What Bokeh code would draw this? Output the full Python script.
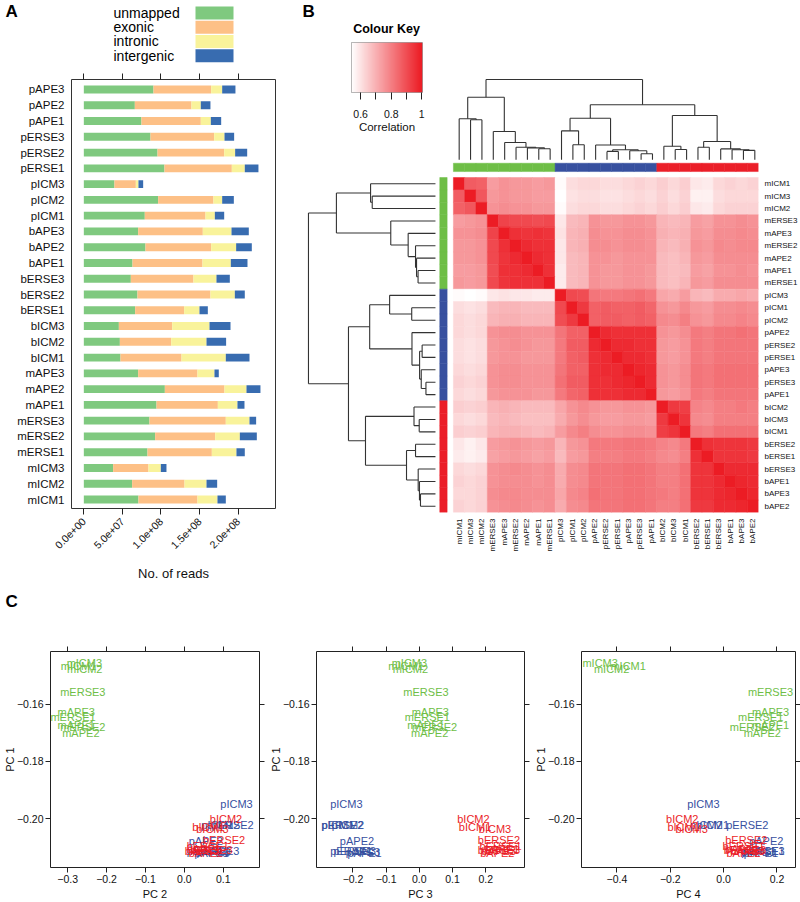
import math
import numpy as np
from bokeh.plotting import figure
from bokeh.layouts import row, column
from bokeh.models import (Range1d, LinearAxis, FixedTicker, CustomJSTickFormatter,
                          ColumnDataSource, LinearColorMapper, CustomLabelingPolicy)
from bokeh.core.properties import value
from bokeh.embed import file_html
from bokeh.resources import INLINE

FONT = "Liberation Sans"

# ---------------- Panel A data (reads, millions) ----------------
A_SAMPLES = ["pAPE3", "pAPE2", "pAPE1", "pERSE3", "pERSE2", "pERSE1", "pICM3", "pICM2", "pICM1",
             "bAPE3", "bAPE2", "bAPE1", "bERSE3", "bERSE2", "bERSE1", "bICM3", "bICM2", "bICM1",
             "mAPE3", "mAPE2", "mAPE1", "mERSE3", "mERSE2", "mERSE1", "mICM3", "mICM2", "mICM1"]
UNMAPPED_M = [90.3, 66.1, 74.7, 86.4, 95.5, 104.5, 39.7, 96.3, 79.0,
              70.4, 79.9, 63.1, 60.9, 69.5, 66.5, 45.4, 46.7, 47.5,
              70.4, 105.0, 94.2, 85.1, 92.4, 82.5, 38.0, 62.6, 70.8]
EXONIC_M = [74.7, 73.4, 76.9, 82.5, 86.4, 87.3, 27.7, 71.7, 78.7,
            83.8, 85.1, 90.7, 81.2, 94.6, 63.5, 69.1, 66.5, 79.1,
            76.9, 77.3, 79.5, 98.9, 77.8, 83.4, 45.8, 67.9, 76.5]
INTRONIC_M = [14.3, 12.1, 13.0, 13.4, 14.2, 16.8, 3.4, 11.3, 12.1,
              37.2, 32.4, 36.7, 29.8, 31.6, 19.9, 48.4, 45.8, 57.4,
              22.0, 28.5, 25.4, 30.7, 32.0, 31.9, 16.0, 28.5, 25.9]
INTERGENIC_M = [17.2, 12.5, 13.4, 12.5, 15.6, 17.7, 6.1, 15.1, 12.1,
                22.4, 20.3, 21.6, 17.3, 12.9, 10.8, 27.2, 25.4, 30.7,
                5.6, 18.1, 9.1, 8.6, 22.0, 10.8, 7.3, 13.8, 10.8]
READ_CATS = ["unmapped", "exonic", "intronic", "intergenic"]
READ_COLORS = ["#7FC97F", "#FDC086", "#F9F39B", "#386CB0"]
A_TICKS = [0, 50000000, 100000000, 150000000, 200000000]
A_TICK_LABELS = ["0.0e+00", "5.0e+07", "1.0e+08", "1.5e+08", "2.0e+08"]

# ---------------- Panel B data ----------------
LABELS = ["mICM1", "mICM3", "mICM2", "mERSE3", "mAPE3", "mERSE2", "mAPE2", "mAPE1", "mERSE1",
          "pICM3", "pICM1", "pICM2", "pAPE2", "pERSE2", "pERSE1", "pAPE3", "pERSE3", "pAPE1",
          "bICM2", "bICM3", "bICM1", "bERSE2", "bERSE1", "bERSE3", "bAPE1", "bAPE3", "bAPE2"]
# upper triangle of the correlation matrix (row i holds columns i+1 .. end)
CORR_UPPER = [
    [0.87, 0.86, 0.74, 0.76, 0.75, 0.75, 0.74, 0.75, 0.55, 0.61, 0.62, 0.62, 0.61, 0.61, 0.62, 0.63, 0.62, 0.64, 0.62, 0.64, 0.59, 0.58, 0.62, 0.63, 0.62, 0.63],
    [0.88, 0.75, 0.76, 0.75, 0.75, 0.74, 0.74, 0.54, 0.60, 0.61, 0.61, 0.60, 0.60, 0.61, 0.62, 0.61, 0.63, 0.61, 0.63, 0.57, 0.57, 0.61, 0.62, 0.62, 0.62],
    [0.76, 0.77, 0.76, 0.76, 0.75, 0.75, 0.55, 0.61, 0.62, 0.62, 0.61, 0.61, 0.62, 0.63, 0.62, 0.64, 0.62, 0.64, 0.59, 0.58, 0.62, 0.63, 0.63, 0.63],
    [0.92, 0.91, 0.91, 0.90, 0.91, 0.59, 0.68, 0.69, 0.76, 0.75, 0.75, 0.76, 0.76, 0.75, 0.69, 0.68, 0.69, 0.74, 0.73, 0.76, 0.76, 0.77, 0.76],
    [0.96, 0.95, 0.96, 0.95, 0.60, 0.69, 0.70, 0.77, 0.76, 0.76, 0.77, 0.77, 0.76, 0.70, 0.69, 0.70, 0.75, 0.74, 0.77, 0.77, 0.78, 0.77],
    [0.97, 0.96, 0.96, 0.59, 0.69, 0.70, 0.77, 0.77, 0.76, 0.77, 0.77, 0.76, 0.69, 0.68, 0.70, 0.76, 0.75, 0.78, 0.77, 0.78, 0.78],
    [0.97, 0.96, 0.59, 0.68, 0.69, 0.76, 0.76, 0.75, 0.76, 0.76, 0.76, 0.68, 0.67, 0.69, 0.75, 0.74, 0.77, 0.77, 0.77, 0.77],
    [0.96, 0.58, 0.68, 0.69, 0.76, 0.75, 0.75, 0.76, 0.76, 0.75, 0.68, 0.67, 0.68, 0.74, 0.73, 0.76, 0.76, 0.77, 0.76],
    [0.58, 0.68, 0.69, 0.76, 0.75, 0.75, 0.76, 0.76, 0.75, 0.68, 0.67, 0.69, 0.75, 0.74, 0.77, 0.77, 0.77, 0.77],
    [0.91, 0.90, 0.82, 0.81, 0.81, 0.82, 0.83, 0.81, 0.72, 0.71, 0.74, 0.69, 0.68, 0.71, 0.71, 0.72, 0.71],
    [0.94, 0.86, 0.87, 0.86, 0.86, 0.87, 0.85, 0.76, 0.75, 0.78, 0.75, 0.74, 0.77, 0.77, 0.78, 0.77],
    [0.86, 0.87, 0.87, 0.86, 0.87, 0.86, 0.78, 0.77, 0.80, 0.76, 0.75, 0.78, 0.78, 0.79, 0.78],
    [0.97, 0.96, 0.96, 0.96, 0.96, 0.76, 0.75, 0.77, 0.81, 0.80, 0.82, 0.82, 0.83, 0.82],
    [0.97, 0.97, 0.96, 0.96, 0.75, 0.74, 0.76, 0.81, 0.80, 0.82, 0.82, 0.82, 0.82],
    [0.97, 0.97, 0.96, 0.75, 0.74, 0.76, 0.81, 0.80, 0.82, 0.82, 0.82, 0.82],
    [0.98, 0.97, 0.76, 0.75, 0.77, 0.82, 0.81, 0.83, 0.83, 0.83, 0.83],
    [0.97, 0.76, 0.75, 0.77, 0.82, 0.81, 0.83, 0.83, 0.83, 0.83],
    [0.75, 0.74, 0.76, 0.81, 0.80, 0.82, 0.82, 0.82, 0.82],
    [0.94, 0.93, 0.79, 0.78, 0.80, 0.80, 0.81, 0.80],
    [0.95, 0.78, 0.77, 0.80, 0.80, 0.80, 0.80],
    [0.81, 0.80, 0.83, 0.83, 0.83, 0.83],
    [0.96, 0.95, 0.95, 0.95, 0.94],
    [0.95, 0.95, 0.95, 0.94],
    [0.97, 0.97, 0.97],
    [0.98, 0.97],
    [0.98],
]
# hierarchical clustering: (child a, child b, height); ints refer to earlier merges
MERGES = [
    ("mICM3", "mICM2", 0.498), ("mICM1", 0, 0.511),
    ("mAPE1", "mERSE1", 0.137), ("mAPE2", 2, 0.149), ("mERSE2", 3, 0.157),
    ("mAPE3", 4, 0.215), ("mERSE3", 5, 0.352), (1, 6, 0.780),
    ("pICM1", "pICM2", 0.187), ("pICM3", 8, 0.361),
    ("pERSE2", "pERSE1", 0.105), ("pERSE3", "pAPE1", 0.075), ("pAPE3", 11, 0.112),
    (10, 12, 0.125), ("pAPE2", 13, 0.185), (9, 14, 0.518),
    ("bICM3", "bICM1", 0.128), ("bICM2", 16, 0.169),
    ("bERSE2", "bERSE1", 0.157), ("bAPE3", "bAPE2", 0.118), ("bAPE1", 19, 0.126),
    ("bERSE3", 20, 0.136), (18, 21, 0.228), (17, 22, 0.551),
    (15, 23, 0.685), (7, 24, 1.000),
]
GROUP_COLORS = {"m": "#6EBE46", "p": "#37509F", "b": "#EB1E28"}
KEY_TICKS = [0.6, 0.8, 1.0]
KEY_MINOR = [0.7, 0.9]

# ---------------- Panel C data (same sample order as LABELS) ----------------
PC1 = [-0.1465, -0.1455, -0.1478, -0.1559, -0.1627, -0.1679, -0.1700, -0.1673, -0.1646,
       -0.1949, -0.2024, -0.2022, -0.2080, -0.2023, -0.2115, -0.2118, -0.2112, -0.2122,
       -0.2000, -0.2035, -0.2028, -0.2076, -0.2095, -0.2110, -0.2105, -0.2115, -0.2122]
PC2 = [-0.272, -0.257, -0.256, -0.261, -0.278, -0.261, -0.266, -0.278, -0.286,
       0.134, 0.085, 0.100, 0.055, 0.124, 0.060, 0.075, 0.087, 0.070,
       0.107, 0.072, 0.062, 0.102, 0.060, 0.070, 0.050, 0.045, 0.055]
PC3 = [-0.040, -0.030, -0.027, 0.020, 0.033, 0.046, 0.031, 0.020, 0.024,
       -0.220, -0.245, -0.215, -0.188, -0.232, -0.205, -0.170, -0.195, -0.165,
       0.163, 0.228, 0.168, 0.240, 0.245, 0.240, 0.250, 0.240, 0.235]
PC4 = [-0.358, -0.463, -0.420, 0.176, 0.176, 0.108, 0.145, 0.176, 0.139,
       -0.076, -0.040, -0.065, 0.160, 0.089, 0.150, 0.130, 0.150, 0.140,
       -0.155, -0.120, -0.150, 0.085, 0.075, 0.080, 0.070, 0.090, 0.075]
PC_Y_TICKS = [-0.20, -0.18, -0.16]

NO_LABELS = CustomLabelingPolicy(code="return new Set();")


def base_fig(w, h, xr, yr, l=0, r=0, t=0, b=0):
    p = figure(width=w, height=h, x_range=xr, y_range=yr, x_axis_type=None, y_axis_type=None,
               output_backend="svg", toolbar_location=None, title=None,
               min_border_left=l, min_border_right=r, min_border_top=t, min_border_bottom=b)
    p.frame_align = False
    p.outline_line_color = None
    p.background_fill_color = "white"
    p.border_fill_color = "white"
    return p


def style_axis(ax, fs="10.5px", tick_out=5, standoff=3):
    ax.axis_line_color = None
    ax.major_tick_out = tick_out
    ax.major_tick_in = 0
    ax.minor_tick_out = 0
    ax.minor_tick_in = 0
    ax.major_tick_line_color = "#222222"
    ax.major_label_text_font = FONT
    ax.major_label_text_font_size = fs
    ax.major_label_text_color = "#111111"
    ax.major_label_standoff = standoff
    ax.axis_label_text_font = FONT
    ax.axis_label_text_font_style = "normal"
    ax.axis_label_text_color = "#111111"


def hide_labels(ax):
    ax.major_label_text_font_size = "0px"
    ax.major_label_standoff = 0
    ax.major_label_policy = NO_LABELS


def txt(p, x, y, s, size, bold=False, align="left", color="black"):
    p.text(x=[x], y=[y], text=[s], text_font=value(FONT), text_font_size=size,
           text_font_style="bold" if bold else "normal", text_align=align,
           text_baseline="middle", text_color=color)


# ================= Panel A =================
pLeg = base_fig(278, 66, Range1d(0, 278), Range1d(66, 0))
txt(pLeg, 5, 11, "A", "17px", bold=True)
leg_y = [12.5 + 14.23 * i for i in range(len(READ_CATS))]
pLeg.rect(x=214, y=leg_y, width=38, height=13, fill_color=READ_COLORS, line_color=None)
pLeg.text(x=113, y=leg_y, text=READ_CATS, text_font=value(FONT), text_font_size="14px",
          text_baseline="middle", text_align="left", text_color="black")

nA = len(A_SAMPLES)
srcA = ColumnDataSource(dict(
    y=list(range(nA, 0, -1)),
    unmapped=[v * 1e6 for v in UNMAPPED_M],
    exonic=[v * 1e6 for v in EXONIC_M],
    intronic=[v * 1e6 for v in INTRONIC_M],
    intergenic=[v * 1e6 for v in INTERGENIC_M],
))
pA = base_fig(278, 522, Range1d(-1.598e7, 2.484e8), Range1d(0.43, nA + 0.634), l=71, r=3, t=13, b=80)
pA.outline_line_color = "#333333"
pA.hbar_stack(READ_CATS, y="y", height=0.5, fill_color=READ_COLORS, line_color=None, source=srcA)
axb = LinearAxis(ticker=FixedTicker(ticks=A_TICKS, minor_ticks=[]),
                 major_label_overrides={t: s for t, s in zip(A_TICKS, A_TICK_LABELS)})
style_axis(axb, fs="10.5px", tick_out=6, standoff=5)
axb.major_label_orientation = math.pi / 4
axb.axis_label = "No. of reads"
axb.axis_label_text_font_size = "13px"
axb.axis_label_standoff = 11
pA.add_layout(axb, "below")
axt = LinearAxis(ticker=FixedTicker(ticks=A_TICKS, minor_ticks=[]))
style_axis(axt, tick_out=6)
hide_labels(axt)
pA.add_layout(axt, "above")
axl = LinearAxis(ticker=FixedTicker(ticks=list(range(1, nA + 1)), minor_ticks=[]),
                 major_label_overrides={nA - i: s for i, s in enumerate(A_SAMPLES)})
style_axis(axl, fs="11.5px", tick_out=0, standoff=7)
pA.add_layout(axl, "left")
colA = column(pLeg, pA)

# ================= Panel B =================
N = len(LABELS)
corr = np.eye(N)
for i, vals in enumerate(CORR_UPPER):
    for k, v in enumerate(vals):
        j = i + 1 + k
        corr[i, j] = v
        corr[j, i] = v
corr_low = float(corr.min())


def make_palette(c0, c1, n=256):
    out = []
    for t in np.linspace(0, 1, n):
        r, g, b = (int(round(a + (bb - a) * t)) for a, bb in zip(c0, c1))
        out.append("#%02x%02x%02x" % (r, g, b))
    return out


mapper = LinearColorMapper(palette=make_palette((255, 255, 255), (236, 28, 36)), low=corr_low, high=1.0)

heat_x = Range1d(-1.407, N)
heat_y = Range1d(0, N + 1.29)

# Title strip with "B" and "Colour Key"
pB = base_fig(159, 42, Range1d(0, 159), Range1d(42, 0))
txt(pB, 24, 11, "B", "17px", bold=True)
txt(pB, 108, 28, "Colour Key", "12.5px", bold=True, align="center")

# colour key
pK = base_fig(159, 119, Range1d(corr_low, 1.005), Range1d(0, 1), l=73, r=15, t=0, b=69)
pK.outline_line_color = "#a0a0a0"
grad = np.linspace(corr_low, 1.005, 200).reshape(1, -1)
pK.image(image=[grad], x=corr_low, y=0, dw=1.005 - corr_low, dh=1, color_mapper=mapper)
axk = LinearAxis(ticker=FixedTicker(ticks=KEY_TICKS, minor_ticks=KEY_MINOR),
                 formatter=CustomJSTickFormatter(code="return Math.abs(tick - 1) < 1e-9 ? '1' : tick.toFixed(1);"))
style_axis(axk, fs="10.5px", tick_out=7, standoff=10)
axk.minor_tick_out = 7
axk.minor_tick_line_color = "#222222"
axk.axis_label = "Correlation"
axk.axis_label_text_font_size = "11.5px"
axk.axis_label_standoff = 0
pK.add_layout(axk, "below")
keycol = column(pB, pK)


def dendro_segments(merges, leaf_pos):
    pos = dict(leaf_pos)
    hgt = {k: 0.0 for k in leaf_pos}
    p0, h0, p1, h1 = [], [], [], []
    for i, (a, b, h) in enumerate(merges):
        for c in (a, b):
            p0.append(pos[c]); h0.append(hgt[c]); p1.append(pos[c]); h1.append(h)
        p0.append(pos[a]); h0.append(h); p1.append(pos[b]); h1.append(h)
        pos[i] = (pos[a] + pos[b]) / 2.0
        hgt[i] = h
    return p0, h0, p1, h1


# top dendrogram
pT = base_fig(363, 161, heat_x, Range1d(-0.021, 1.984), l=0, r=40, t=0, b=0)
c0, ch0, c1_, ch1 = dendro_segments(MERGES, {lab: c + 0.5 for c, lab in enumerate(LABELS)})
pT.segment(x0=c0, y0=ch0, x1=c1_, y1=ch1, line_color="#333333", line_width=1.1)

# left dendrogram
pD = base_fig(159, 427, Range1d(1.236, -0.016), heat_y, l=0, r=0, t=0, b=76)
r0, rh0, r1, rh1 = dendro_segments(MERGES, {lab: N - r - 0.5 for r, lab in enumerate(LABELS)})
pD.segment(x0=rh0, y0=r0, x1=rh1, y1=r1, line_color="#333333", line_width=1.1)

# heatmap
pH = base_fig(363, 427, heat_x, heat_y, l=0, r=40, t=0, b=76)
hx, hy, hv = [], [], []
for i in range(N):
    for j in range(N):
        hx.append(j + 0.5)
        hy.append(N - i - 0.5)
        hv.append(corr[i, j])
srcH = ColumnDataSource(dict(x=hx, y=hy, v=hv))
pH.rect(x="x", y="y", width=1, height=1, source=srcH,
        fill_color={"field": "v", "transform": mapper},
        line_color={"field": "v", "transform": mapper}, line_width=0.5)
grp_cols = [GROUP_COLORS[lab[0]] for lab in LABELS]
pH.rect(x=-0.88, y=[N - r - 0.5 for r in range(N)], width=0.65, height=1,
        fill_color=grp_cols, line_color=grp_cols, line_width=0.5)
pH.rect(x=[c + 0.5 for c in range(N)], y=N + 0.815, width=1, height=0.67,
        fill_color=grp_cols, line_color=grp_cols, line_width=0.5)
axhb = LinearAxis(ticker=FixedTicker(ticks=[c + 0.5 for c in range(N)], minor_ticks=[]),
                  major_label_overrides={c + 0.5: lab for c, lab in enumerate(LABELS)})
style_axis(axhb, fs="8px", tick_out=0, standoff=6)
axhb.major_label_orientation = math.pi / 2
pH.add_layout(axhb, "below")
axhr = LinearAxis(ticker=FixedTicker(ticks=[N - r - 0.5 for r in range(N)], minor_ticks=[]),
                  major_label_overrides={N - r - 0.5: lab for r, lab in enumerate(LABELS)})
style_axis(axhr, fs="8px", tick_out=0, standoff=6)
pH.add_layout(axhr, "right")

panelB = column(row(keycol, pT), row(pD, pH))
top = row(colA, panelB)

# ================= Panel C =================
pCs = base_fig(800, 30, Range1d(0, 800), Range1d(30, 0))
txt(pCs, 5, 13, "C", "17px", bold=True)

FMT1 = CustomJSTickFormatter(code="return tick.toFixed(1).replace('-', '\\u2212');")
FMT2 = CustomJSTickFormatter(code="return tick.toFixed(2).replace('-', '\\u2212');")
text_cols = [GROUP_COLORS[lab[0]] for lab in LABELS]


def pc_plot(xs, xlab, w, xr, xticks, mbl, mbr):
    p = base_fig(w, 284, Range1d(*xr), Range1d(-0.2171, -0.14157), l=mbl, r=mbr, t=33, b=34)
    p.outline_line_color = "#222222"
    for side in ("below", "above"):
        ax = LinearAxis(ticker=FixedTicker(ticks=xticks, minor_ticks=[]), formatter=FMT1)
        style_axis(ax, fs="10.5px", tick_out=5, standoff=2)
        if side == "below":
            ax.axis_label = xlab
            ax.axis_label_text_font_size = "11px"
            ax.axis_label_standoff = 2
        else:
            hide_labels(ax)
        p.add_layout(ax, side)
    for side in ("left", "right"):
        ax = LinearAxis(ticker=FixedTicker(ticks=PC_Y_TICKS, minor_ticks=[]), formatter=FMT2)
        style_axis(ax, fs="10.5px", tick_out=5, standoff=2)
        if side == "left":
            ax.axis_label = "PC 1"
            ax.axis_label_text_font_size = "11px"
            ax.axis_label_standoff = -2
        else:
            hide_labels(ax)
        p.add_layout(ax, side)
    src = ColumnDataSource(dict(x=xs, y=PC1, t=LABELS, c=text_cols))
    p.text(x="x", y="y", text="t", text_color="c", source=src, text_font=value(FONT),
           text_font_size="11px", text_align="center", text_baseline="middle")
    return p


pc1 = pc_plot(PC2, "PC 2", 266, (-0.344, 0.193), [-0.3, -0.2, -0.1, 0.0, 0.1], 43, 7)
pc2 = pc_plot(PC3, "PC 3", 265, (-0.310, 0.317), [-0.2, -0.1, 0.0, 0.1, 0.2], 44, 7)
pc3 = pc_plot(PC4, "PC 4", 269, (-0.533, 0.2696), [-0.4, -0.2, 0.0, 0.2], 49, 5)

bottom = column(pCs, row(pc1, pc2, pc3))
layout = column(top, bottom)

open("out.html", "w").write(file_html(layout, INLINE))
